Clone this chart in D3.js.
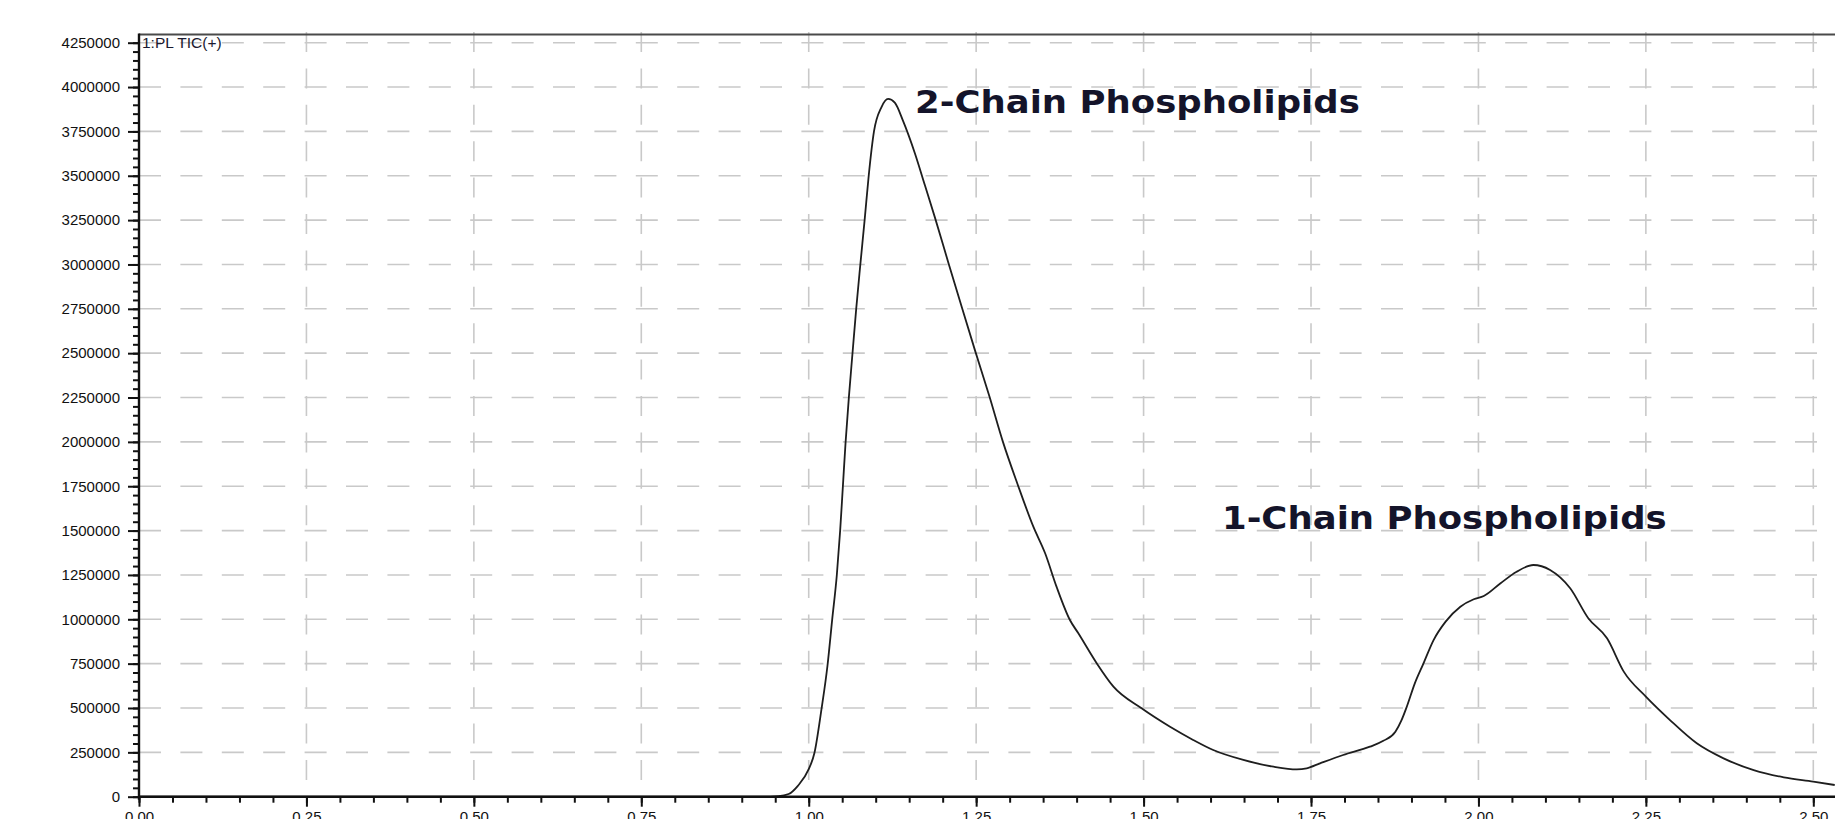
<!DOCTYPE html>
<html><head><meta charset="utf-8">
<script src="https://cdn.jsdelivr.net/npm/d3@7"></script>
<style>html,body{margin:0;padding:0;background:#fff;overflow:hidden}</style>
</head><body><svg id="c" width="1835" height="819"></svg>
<script>
// ---- data ----
const retentionTime = [0.00,0.25,0.50,0.75,0.93,0.955,0.97,0.9835,1.000,1.0085,1.019,1.028,1.035,1.042,1.047,1.051,1.055,1.060,1.0655,1.071,1.077,1.0835,1.0895,1.0975,1.1085,1.1185,1.1285,1.141,1.1585,1.1735,1.1885,1.2085,1.2285,1.2485,1.270,1.29,1.312,1.3354,1.353,1.370,1.390,1.4026,1.430,1.455,1.497,1.5395,1.574,1.604,1.649,1.694,1.7287,1.7436,1.7635,1.798,1.838,1.858,1.876,1.885,1.893,1.905,1.918,1.933,1.951,1.973,1.993,2.008,2.033,2.057,2.082,2.107,2.137,2.164,2.192,2.217,2.25,2.286,2.326,2.366,2.411,2.456,2.50,2.532];
const intensity = [0,0,0,0,0,3000,15000,60000,155000,246000,492000,738000,997000,1251000,1503000,1749000,1995000,2254000,2505000,2754000,2997000,3251000,3497000,3751000,3886000,3933000,3912000,3808000,3627000,3446000,3264000,3010000,2760000,2513000,2254000,2000000,1760000,1522000,1372000,1184000,996000,921000,752000,620000,498000,394000,320000,263000,207000,169000,154000,160000,188000,235000,282000,315000,366000,430000,507000,639000,752000,883000,987000,1071000,1113000,1131000,1203000,1268000,1306000,1278000,1175000,1006000,893000,705000,564000,432000,301000,216000,150000,109000,85000,66000];
const xTickValues = [0,0.25,0.5,0.75,1.0,1.25,1.5,1.75,2.0,2.25,2.5];
const xTickLabels = ["0.00","0.25","0.50","0.75","1.00","1.25","1.50","1.75","2.00","2.25","2.50"];
const yTickValues = [0,250000,500000,750000,1000000,1250000,1500000,1750000,2000000,2250000,2500000,2750000,3000000,3250000,3500000,3750000,4000000,4250000];
const yTickLabels = ["0","250000","500000","750000","1000000","1250000","1500000","1750000","2000000","2250000","2500000","2750000","3000000","3250000","3500000","3750000","4000000","4250000"];
const traceLabel = "1:PL TIC(+)";
const annotationTexts = ["2-Chain Phospholipids","1-Chain Phospholipids"];
const annotationX = [1.1587, 1.617];
const annotationY = [3852000, 1507000];

(function () {
// ---- layout ----
const W = 1835, H = 819;
const mLeft = 139, mBottom = 796.7, mTop = 42.7, frameTop = 34.5;
const svg = d3.select("#c");
svg.append("rect").attr("width", W).attr("height", H).attr("fill", "#fff");

const x = d3.scaleLinear().domain([0, 2.5]).range([mLeft, 1813.3]);
const y = d3.scaleLinear().domain([0, 4250000]).range([mBottom, mTop]);

// grid
const grid = svg.append("g").attr("stroke", "#c9c9c9").attr("stroke-width", 1.6).attr("fill", "none");
grid.selectAll("line.h").data(yTickValues.filter(d => d > 0)).join("line").attr("class", "h")
  .attr("x1", mLeft).attr("x2", W).attr("y1", d => y(d)).attr("y2", d => y(d))
  .attr("stroke-dasharray", "22,19.4");
grid.selectAll("line.v").data(xTickValues.filter(d => d > 0)).join("line").attr("class", "v")
  .attr("x1", d => x(d)).attr("x2", d => x(d)).attr("y1", 32).attr("y2", mBottom)
  .attr("stroke-dasharray", "20,16.4");

// frame top
svg.append("line").attr("x1", mLeft).attr("x2", W).attr("y1", frameTop).attr("y2", frameTop)
  .attr("stroke", "#4a4a4a").attr("stroke-width", 2.2);

// trace
const pts = retentionTime.map((t, i) => [t, intensity[i]]);
svg.append("path").datum(pts)
  .attr("fill", "none").attr("stroke", "#1e1e1e").attr("stroke-width", 1.8)
  .attr("d", d3.line().x(d => x(d[0])).y(d => y(d[1])).curve(d3.curveMonotoneX));

// axes
const font = "'Liberation Sans', Arial, sans-serif";
const yAxis = svg.append("g").attr("transform", `translate(${mLeft},0)`)
  .call(d3.axisLeft(y).tickValues(yTickValues).tickFormat((d, i) => yTickLabels[i]).tickSize(11).tickSizeOuter(0).tickPadding(8));
const yMinor = svg.append("g").attr("transform", `translate(${mLeft},0)`)
  .call(d3.axisLeft(y).tickValues(d3.range(0, 4250001, 50000)).tickFormat("").tickSize(6).tickSizeOuter(0));
const xAxis = svg.append("g").attr("transform", `translate(0,${mBottom})`)
  .call(d3.axisBottom(x).tickValues(xTickValues).tickFormat((d, i) => xTickLabels[i]).tickSize(10).tickSizeOuter(0).tickPadding(6));
const xMinor = svg.append("g").attr("transform", `translate(0,${mBottom})`)
  .call(d3.axisBottom(x).tickValues(d3.range(0, 2.56, 0.05)).tickFormat("").tickSize(6).tickSizeOuter(0));
[yAxis, yMinor, xAxis, xMinor].forEach(g => {
  g.select(".domain").remove();
  g.selectAll(".tick line").attr("stroke", "#111").attr("stroke-width", 2);
  g.selectAll("text").attr("font-family", font).attr("font-size", 15).attr("fill", "#111");
});
yAxis.selectAll("text").attr("x", -19);
xAxis.selectAll("text").attr("y", 15).attr("dy", "0.71em");

// axis lines
svg.append("line").attr("x1", mLeft).attr("x2", mLeft).attr("y1", frameTop - 1).attr("y2", mBottom + 3)
  .attr("stroke", "#111").attr("stroke-width", 2.4);
svg.append("line").attr("x1", mLeft - 1).attr("x2", W).attr("y1", mBottom).attr("y2", mBottom)
  .attr("stroke", "#111").attr("stroke-width", 2.4);

// trace label
svg.append("text").attr("x", mLeft + 3).attr("y", 48.3)
  .attr("font-family", font).attr("font-size", 15.5).attr("fill", "#1a1a30").text(traceLabel);

// annotations (bold, horizontally widened to match the original face)
annotationTexts.forEach((txt, i) => {
  const t = svg.append("text")
    .attr("font-family", "'DejaVu Sans', Verdana, sans-serif").attr("font-weight", "bold")
    .attr("font-size", 31.5).attr("fill", "#14142a").text(txt);
  const w = t.node().getComputedTextLength();
  const k = 445 / w;
  t.attr("transform", `translate(${x(annotationX[i])},${y(annotationY[i])}) scale(${k},1)`);
});
})();
</script></body></html>
